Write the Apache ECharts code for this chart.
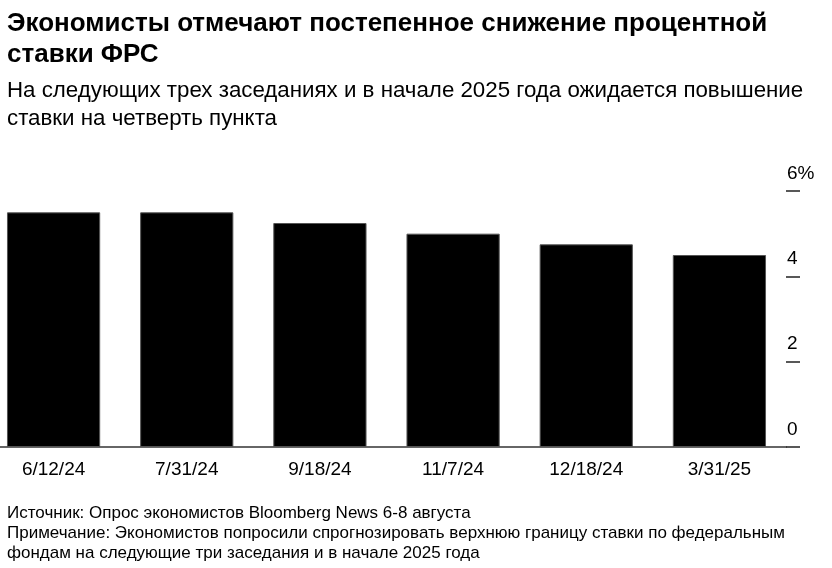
<!DOCTYPE html>
<html>
<head>
<meta charset="utf-8">
<script src="https://cdn.jsdelivr.net/npm/echarts@6/dist/echarts.min.js"></script>
<style>html,body{margin:0;padding:0;background:#fff;overflow:hidden;width:832px;height:568px;}#c{width:845px;height:568px;margin-left:-13px;}</style>
</head>
<body>
<div id="c"></div>
<script>
const categories = ['6/12/24', '7/31/24', '9/18/24', '11/7/24', '12/18/24', '3/31/25'];
const rates = [5.5, 5.5, 5.25, 5.0, 4.75, 4.5];
const yTicks = [0, 2, 4, 6];
const titleText = 'Экономисты отмечают постепенное снижение процентной\nставки ФРС';
const subText = 'На следующих трех заседаниях и в начале 2025 года ожидается повышение\nставки на четверть пункта';
const footText = 'Источник: Опрос экономистов Bloomberg News 6-8 августа\nПримечание: Экономистов попросили спрогнозировать верхнюю границу ставки по федеральным\nфондам на следующие три заседания и в начале 2025 года';

const sans = "'Liberation Sans', Arial, sans-serif";

const chart = echarts.init(document.getElementById('c'));
chart.setOption({
  animation: false,
  backgroundColor: '#fff',
  title: [{
    text: titleText,
    subtext: subText,
    left: 20, top: 8,
    padding: 0,
    itemGap: 7,
    textStyle: {fontFamily: sans, fontSize: 26, fontWeight: 'bold', color: '#000', lineHeight: 31},
    subtextStyle: {fontFamily: sans, fontSize: 22.3, color: '#000', lineHeight: 28}
  }, {
    text: footText,
    left: 20, top: 503,
    padding: 0,
    textStyle: {fontFamily: sans, fontSize: 17, fontWeight: 'normal', color: '#000', lineHeight: 20}
  }],
  grid: {left: 0, right: 46, top: 191, bottom: 121, containLabel: false},
  xAxis: {
    type: 'category',
    data: categories,
    axisLine: {lineStyle: {color: '#666', width: 2}},
    axisTick: {show: false},
    axisLabel: {fontFamily: sans, fontSize: 19, color: '#000', margin: 13}
  },
  yAxis: {
    type: 'value',
    position: 'right',
    min: 0, max: 6, interval: 2,
    splitLine: {show: false},
    axisLine: {show: false},
    axisTick: {show: true, inside: false, length: 14, lineStyle: {color: '#222', width: 1.5}},
    axisLabel: {
      fontFamily: sans, fontSize: 19, color: '#000', margin: 1,
      align: 'left', verticalAlign: 'bottom', padding: [0, 0, 8, 0],
      formatter: v => (v === yTicks[yTicks.length - 1] ? v + '%' : String(v))
    }
  },
  series: [{
    type: 'bar',
    data: rates,
    barWidth: '70%',
    itemStyle: {color: '#000', borderColor: '#555', borderWidth: 1}
  }]
});
</script>
</body>
</html>
